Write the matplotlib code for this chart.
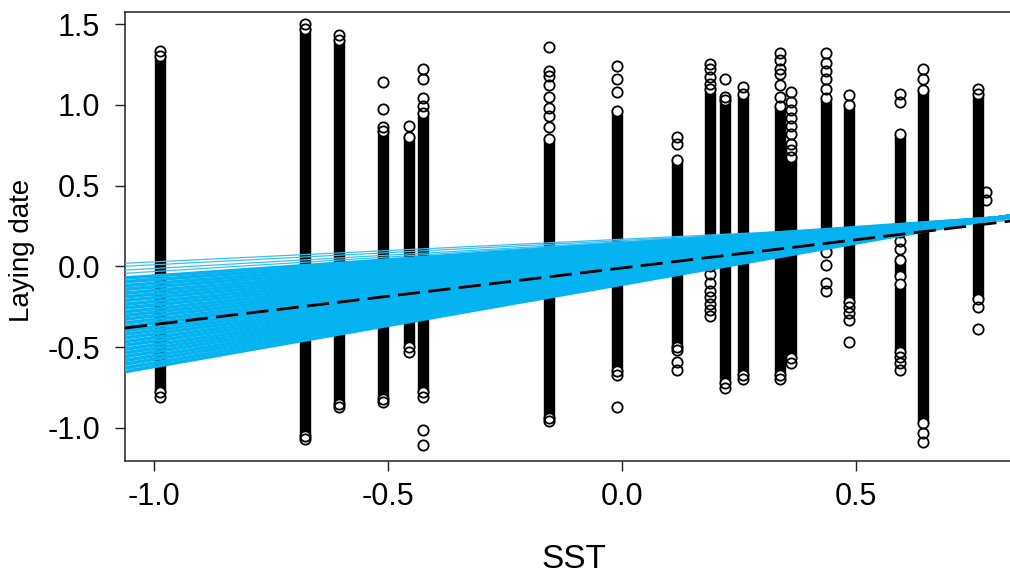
import matplotlib
matplotlib.use('Agg')
import matplotlib.pyplot as plt
import numpy as np

plt.rcParams['font.family'] = ['Liberation Sans', 'DejaVu Sans']

# dense stacks of observations: x (SST), upper and lower end of the solid run
col_x = [-0.987, -0.677, -0.605, -0.511, -0.455, -0.425, -0.156, -0.011, 0.118,
         0.188, 0.220, 0.259, 0.338, 0.362, 0.436, 0.485, 0.594, 0.594, 0.594,
         0.643, 0.761]
col_hi = [1.30, 1.47, 1.40, 0.84, 0.80, 0.95, 0.79, 0.96, 0.66,
          1.10, 1.03, 1.07, 0.99, 0.68, 1.04, 1.00, 0.82, 0.04, -0.11,
          1.09, 1.07]
col_lo = [-0.78, -1.05, -0.85, -0.82, -0.50, -0.78, -0.94, -0.65, -0.50,
          0.00, -0.72, -0.67, -0.67, -0.57, 0.09, -0.22, 0.21, -0.06, -0.53,
          -0.97, -0.20]

# single observations outside the dense runs
pt_x = ([-0.987] * 2 + [-0.677] * 2 + [-0.605] * 2 + [-0.511] * 4 + [-0.455] * 2 +
        [-0.425] * 7 + [-0.156] * 9 + [-0.011] * 5 + [0.118] * 5 + [0.188] * 11 +
        [0.220] * 3 + [0.259] * 2 + [0.338] * 7 + [0.362] * 9 + [0.436] * 8 +
        [0.485] * 5 + [0.594] * 7 + [0.643] * 4 + [0.761] * 3 + [0.778] * 2)
pt_y = [1.335, -0.81,
        1.50, -1.07,
        1.43, -0.87,
        1.14, 0.975, 0.86, -0.84,
        0.87, -0.53,
        1.22, 1.16, 1.04, 0.99, -0.81, -1.01, -1.105,
        1.36, 1.21, 1.18, 1.12, 1.05, 0.98, 0.93, 0.86, -0.96,
        1.24, 1.16, 1.08, -0.67, -0.87,
        0.80, 0.76, -0.52, -0.59, -0.64,
        1.25, 1.22, 1.17, 1.13, -0.05, -0.10, -0.15, -0.19, -0.23, -0.27, -0.31,
        1.16, 1.05, -0.75,
        1.11, -0.70,
        1.32, 1.28, 1.22, 1.19, 1.12, 1.05, -0.70,
        1.08, 1.02, 0.97, 0.92, 0.87, 0.82, 0.76, 0.72, -0.60,
        1.32, 1.26, 1.21, 1.16, 1.10, 0.01, -0.10, -0.155,
        1.06, -0.25, -0.29, -0.33, -0.47,
        1.07, 1.02, 0.16, 0.11, -0.56, -0.60, -0.64,
        1.22, 1.16, -1.03, -1.09,
        1.10, -0.25, -0.39,
        0.46, 0.41]

# posterior regression lines (intercept, slope)
fit_a = [0.140, 0.130, 0.120, 0.110, 0.100, 0.090, 0.080, 0.070, 0.060, 0.050,
         0.040, 0.030, 0.020, 0.010, 0.000, -0.010, -0.020, -0.030, -0.040, -0.050,
         -0.060, -0.070, -0.080, -0.090, -0.100, -0.110]
fit_b = [0.200, 0.212, 0.225, 0.237, 0.250, 0.262, 0.274, 0.287, 0.299, 0.312,
         0.324, 0.336, 0.349, 0.361, 0.374, 0.386, 0.398, 0.411, 0.423, 0.436,
         0.448, 0.460, 0.473, 0.485, 0.498, 0.510]
edge_a = [0.168, 0.160, 0.152, 0.148]
edge_b = [0.140, 0.150, 0.165, 0.180]
mean_a, mean_b = -0.01, 0.35

xlim = (-1.062, 0.857)
ylim = (-1.205, 1.575)

fig = plt.figure(figsize=(10.1, 5.78), dpi=100)
ax = fig.add_axes([125 / 1010, 117 / 578, 898 / 1010, 449 / 578])

ax.vlines(col_x, col_lo, col_hi, color='black', linewidth=8.2, zorder=2)
ax.plot(col_x + col_x, col_lo + col_hi, 'o', ms=7.4, mfc='white', mec='black',
        mew=1.3, zorder=3, linestyle='none')
ax.plot(pt_x, pt_y, 'o', ms=7.4, mfc='none', mec='black', mew=1.3, zorder=3,
        linestyle='none')

xs = np.array(xlim)
for a, b in zip(edge_a, edge_b):
    ax.plot(xs, a + b * xs, color='#3CC0F2', lw=0.9, zorder=4)
for a, b in zip(fit_a, fit_b):
    ax.plot(xs, a + b * xs, color='#05B3F0', lw=2.6, zorder=4)
ax.plot(xs, mean_a + mean_b * xs, color='black', lw=2.0, dashes=(8, 3), zorder=5)

ax.set_xlim(xlim)
ax.set_ylim(ylim)
ax.set_xticks([-1.0, -0.5, 0.0, 0.5])
ax.set_xticklabels(['-1.0', '-0.5', '0.0', '0.5'])
ax.set_yticks([-1.0, -0.5, 0.0, 0.5, 1.0, 1.5])
ax.set_yticklabels(['-1.0', '-0.5', '0.0', '0.5', '1.0', '1.5'])
ax.tick_params(axis='both', direction='out', length=7, width=1.0, labelsize=22,
               color='#222222')
ax.tick_params(axis='x', pad=8)
ax.tick_params(axis='y', pad=11)
for s in ax.spines.values():
    s.set_linewidth(1.1)
    s.set_color('#222222')

ax.set_xlabel('SST', fontsize=24)
ax.xaxis.set_label_coords((574 - 125) / 898, -0.185)
ax.set_ylabel('Laying date', fontsize=20)
ax.yaxis.set_label_coords(-0.100, 0.47)

plt.savefig('out.png', dpi=100)
